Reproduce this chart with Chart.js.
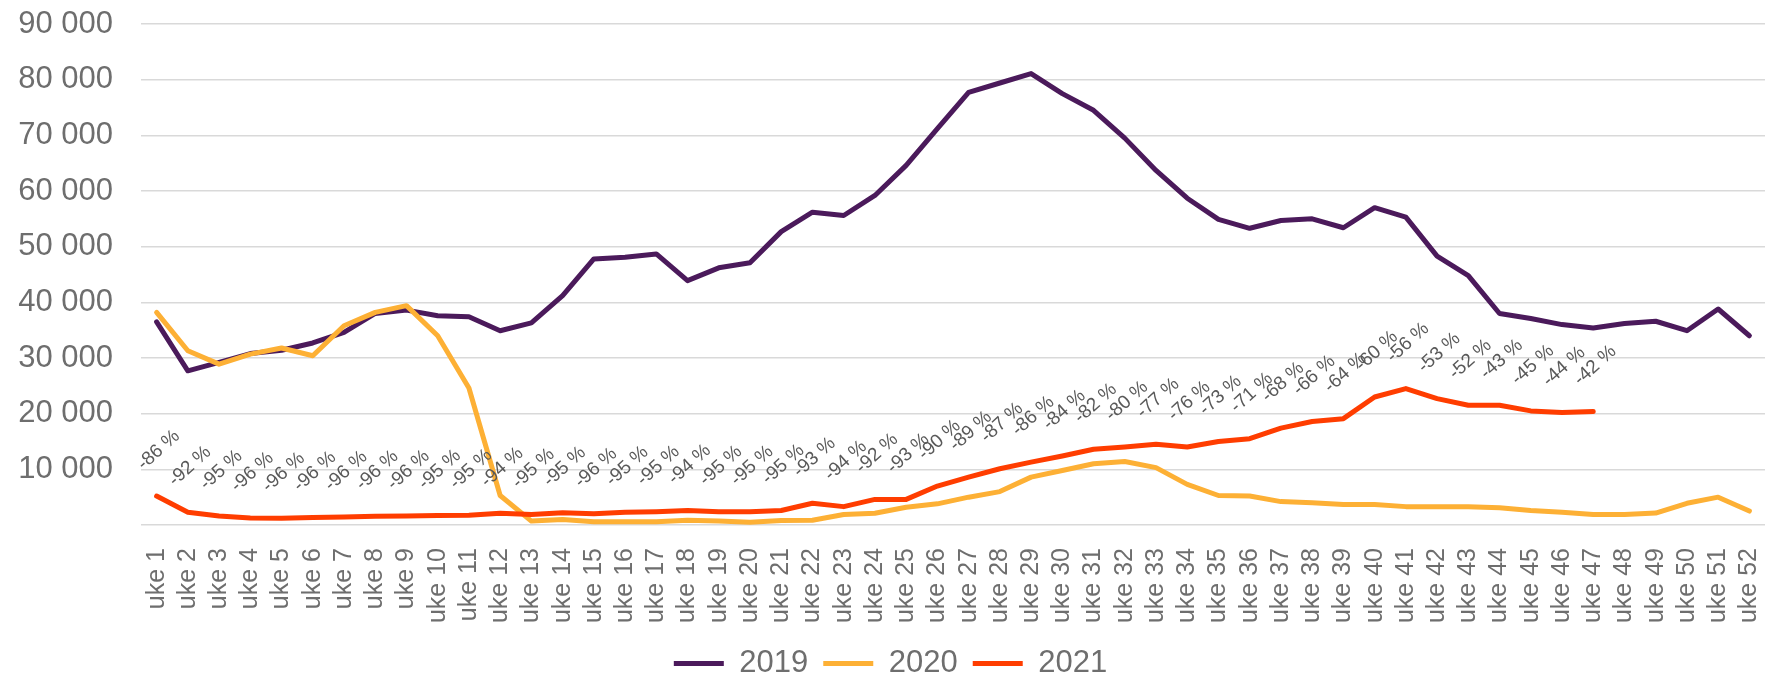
<!DOCTYPE html>
<html>
<head>
<meta charset="utf-8">
<script src="https://cdn.jsdelivr.net/npm/chart.js@4/dist/chart.umd.min.js"></script>
<style>
  html, body { margin: 0; padding: 0; background: #fff; }
  canvas { display: block; }
</style>
</head>
<body>
<canvas id="chart" width="1772" height="681"></canvas>
<script>
const weeks = [
  "uke 1", "uke 2", "uke 3", "uke 4", "uke 5", "uke 6", "uke 7", "uke 8", "uke 9", "uke 10",
  "uke 11", "uke 12", "uke 13", "uke 14", "uke 15", "uke 16", "uke 17", "uke 18", "uke 19", "uke 20",
  "uke 21", "uke 22", "uke 23", "uke 24", "uke 25", "uke 26", "uke 27", "uke 28", "uke 29", "uke 30",
  "uke 31", "uke 32", "uke 33", "uke 34", "uke 35", "uke 36", "uke 37", "uke 38", "uke 39", "uke 40",
  "uke 41", "uke 42", "uke 43", "uke 44", "uke 45", "uke 46", "uke 47", "uke 48", "uke 49", "uke 50",
  "uke 51", "uke 52"
];

const values2019 = [
  36500, 27700, 29200, 30800, 31400, 32700, 34600, 38000, 38600, 37600,
  37400, 34900, 36300, 41200, 47800, 48100, 48700, 43900, 46200, 47100,
  52700, 56200, 55600, 59200, 64600, 71200, 77700, 79400, 81100, 77500,
  74500, 69500, 63700, 58700, 54900, 53300, 54700, 55000, 53400, 57000,
  55300, 48300, 44800, 38000, 37100, 36000, 35400, 36200, 36600, 34900,
  38800, 34000
];

const values2020 = [
  38200, 31300, 28900, 30700, 31800, 30400, 35800, 38200, 39400, 34000,
  24600, 5300, 700, 1000, 600, 600, 600, 850, 700, 500,
  800, 850, 1900, 2100, 3200, 3800, 5000, 6000, 8600, 9800,
  11000, 11400, 10300, 7300, 5300, 5200, 4200, 4000, 3700, 3700,
  3300, 3300, 3300, 3100, 2600, 2300, 1900, 1900, 2150, 3900,
  5000, 2500
];

const values2021 = [
  5200, 2300, 1600, 1250, 1200, 1350, 1450, 1550, 1600, 1700,
  1750, 2100, 1900, 2200, 2000, 2300, 2400, 2600, 2400, 2400,
  2600, 3900, 3300, 4600, 4600, 7000, 8600, 10100, 11300, 12400,
  13600, 14000, 14500, 14000, 15000, 15500, 17400, 18600, 19100, 23000,
  24500, 22700, 21500, 21500, 20500, 20200, 20400
];

// change 2021 vs 2019, shown above the 2021 line
const changePct = [
  -86, -92, -95, -96, -96, -96, -96, -96, -96, -95,
  -95, -94, -95, -95, -96, -95, -95, -94, -95, -95,
  -95, -93, -94, -92, -93, -90, -89, -87, -86, -84,
  -82, -80, -77, -76, -73, -71, -68, -66, -64, -60,
  -56, -53, -52, -43, -45, -44, -42
];

const yTicks = [0, 10000, 20000, 30000, 40000, 50000, 60000, 70000, 80000, 90000];

const FONT = "'Liberation Sans', Arial, sans-serif";
Chart.defaults.font.family = FONT;
Chart.defaults.color = "#6e6e6e";

function spaced(n) {
  return String(n).replace(/\B(?=(\d{3})+(?!\d))/g, " ");
}

// draws the rotated "-86 %" labels over the 2021 points
const pctLabels = {
  id: "pctLabels",
  afterDatasetsDraw(chart) {
    const meta = chart.getDatasetMeta(2);
    const ctx = chart.ctx;
    ctx.save();
    ctx.font = "19px " + FONT;
    ctx.fillStyle = "#595959";
    ctx.textAlign = "center";
    ctx.textBaseline = "middle";
    changePct.forEach((p, i) => {
      const pt = meta.data[i];
      if (!pt) return;
      ctx.save();
      ctx.translate(pt.x + 2, pt.y - 46);
      ctx.rotate(-42 * Math.PI / 180);
      ctx.fillText(p + " %", 0, 0);
      ctx.restore();
    });
    ctx.restore();
  }
};

const lineStyle = {
  borderWidth: 5,
  pointRadius: 0,
  pointHoverRadius: 0,
  tension: 0,
  fill: false,
  borderJoinStyle: "round",
  borderCapStyle: "round"
};

new Chart(document.getElementById("chart"), {
  type: "line",
  data: {
    labels: weeks,
    datasets: [
      { label: "2019", data: values2019, borderColor: "#4b1a5b", backgroundColor: "#4b1a5b", order: 2, ...lineStyle },
      { label: "2020", data: values2020, borderColor: "#fdb035", backgroundColor: "#fdb035", order: 1, ...lineStyle },
      { label: "2021", data: values2021, borderColor: "#ff3d00", backgroundColor: "#ff3d00", order: 0, ...lineStyle }
    ]
  },
  options: {
    responsive: false,
    animation: false,
    layout: { padding: { left: 16, right: 7, top: 24, bottom: -8 } },
    plugins: {
      tooltip: { enabled: false },
      legend: {
        position: "bottom",
        labels: {
          usePointStyle: true,
          pointStyle: "line",
          pointStyleWidth: 50,
          boxHeight: 5,
          padding: 15,
          color: "#6e6e6e",
          font: { size: 31 },
          sort: (a, b) => a.datasetIndex - b.datasetIndex
        }
      }
    },
    scales: {
      x: {
        offset: true,
        grid: { display: false, drawTicks: false },
        border: { display: false },
        ticks: {
          autoSkip: false,
          minRotation: 90,
          maxRotation: 90,
          padding: 23,
          color: "#6e6e6e",
          font: { size: 25 }
        },
        afterFit: (scale) => {
          scale.height = 108;
          scale.paddingLeft = 0;
          scale.paddingRight = 0;
        }
      },
      y: {
        min: 0,
        max: 90000,
        afterBuildTicks: (scale) => { scale.ticks = yTicks.map((v) => ({ value: v })); },
        grid: { color: "#d9d9d9", lineWidth: 1.5, drawTicks: false },
        border: { display: false },
        ticks: {
          padding: 28,
          color: "#6e6e6e",
          font: { size: 31 },
          callback: (v) => (v === 0 ? "" : spaced(v))
        },
        afterFit: (scale) => {
          scale.width = 125;
          scale.paddingTop = 0;
          scale.paddingBottom = 0;
        }
      }
    }
  },
  plugins: [pctLabels]
});
</script>
</body>
</html>
